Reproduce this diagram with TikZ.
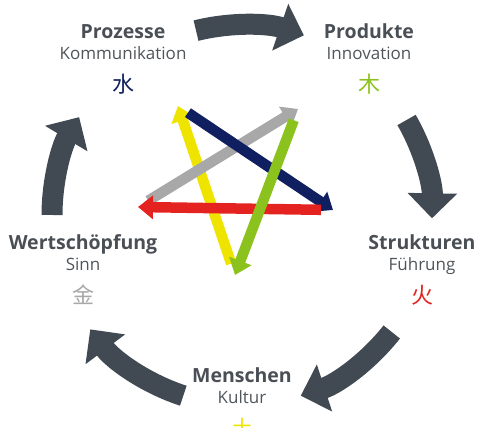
\documentclass[tikz,border=0pt]{standalone}
\usepackage{fontspec}
\setmainfont{Open Sans}
\newfontfamily\cjkfont{Noto Sans CJK SC}
\usetikzlibrary{arrows.meta}
\definecolor{titlegray}{HTML}{4A4F55}
\definecolor{subgray}{HTML}{50555A}
\definecolor{cyclegray}{HTML}{414A52}
\definecolor{starnavy}{HTML}{0F1F5F}
\definecolor{stargreen}{HTML}{8CC21E}
\definecolor{staryellow}{HTML}{EFE400}
\definecolor{starred}{HTML}{E42320}
\definecolor{stargray}{HTML}{A8A8A8}
\begin{document}
\begin{tikzpicture}
[x=1pt,y=1pt,
  titletext/.style={text=titlegray,font=\fontsize{19.5}{20}\selectfont\bfseries,inner sep=0pt,anchor=base},%
  subtext/.style={text=subgray,font=\fontsize{17}{18}\selectfont,inner sep=0pt,anchor=base},%
  elementtext/.style={font=\cjkfont\fontsize{22}{22}\selectfont,inner sep=0pt},%
  cyclearrow/.style={draw=cyclegray,line width=21pt,-{Triangle[width=48pt,length=25pt]}},%
  stararrow/.style={line width=10.5pt,-{Triangle[width=23pt,length=15pt]},shorten <=12pt}]
\useasboundingbox (0,0) rectangle (477,428);
%% centre of the cycle and points of the star
\coordinate (center) at (242,213);
\foreach \pointname/\x/\y in {tl/178/322, tr/298/319, r/333/218, l/138/221, b/235/153} {
  \coordinate (\pointname) at (\x,\y);
}
%% cycle arrows
\foreach \startangle/\endangle in {104/71, 30/-1, -38/-72, -108/-143, 180/149} {
  \draw[cyclearrow] (center) ++(\startangle:190)
    arc[start angle=\startangle,end angle=\endangle,radius=190];
}
%% labels
\foreach \nodename/\x/\y/\heading/\subline/\elem/\elemcolor in {
  prozesse/123/389/Prozesse/Kommunikation/水/starnavy,
  produkte/369/389/Produkte/Innovation/木/stargreen,
  strukturen/422/178/Strukturen/Führung/火/starred,
  menschen/242/45/Menschen/Kultur/土/staryellow,
  wertschoepfung/83/178/Wertschöpfung/Sinn/金/stargray} {
  \node[titletext] (\nodename) at (\x,\y) {\heading};
  \node[subtext] (\nodename-sub) at (\x,\y-21) {\subline};
  \node[elementtext,text=\elemcolor] (\nodename-elem) at (\x,\y-45) {\elem};
}
%% star arrows
\draw[stararrow,staryellow] (b) -- (tl);
\draw[stararrow,stargray] (l) -- (tr);
\draw[stararrow,starnavy] (tl) -- (r);
\draw[stararrow,starred] (r) -- (l);
\draw[stararrow,stargreen] (tr) -- (b);
\end{tikzpicture}
\end{document}
